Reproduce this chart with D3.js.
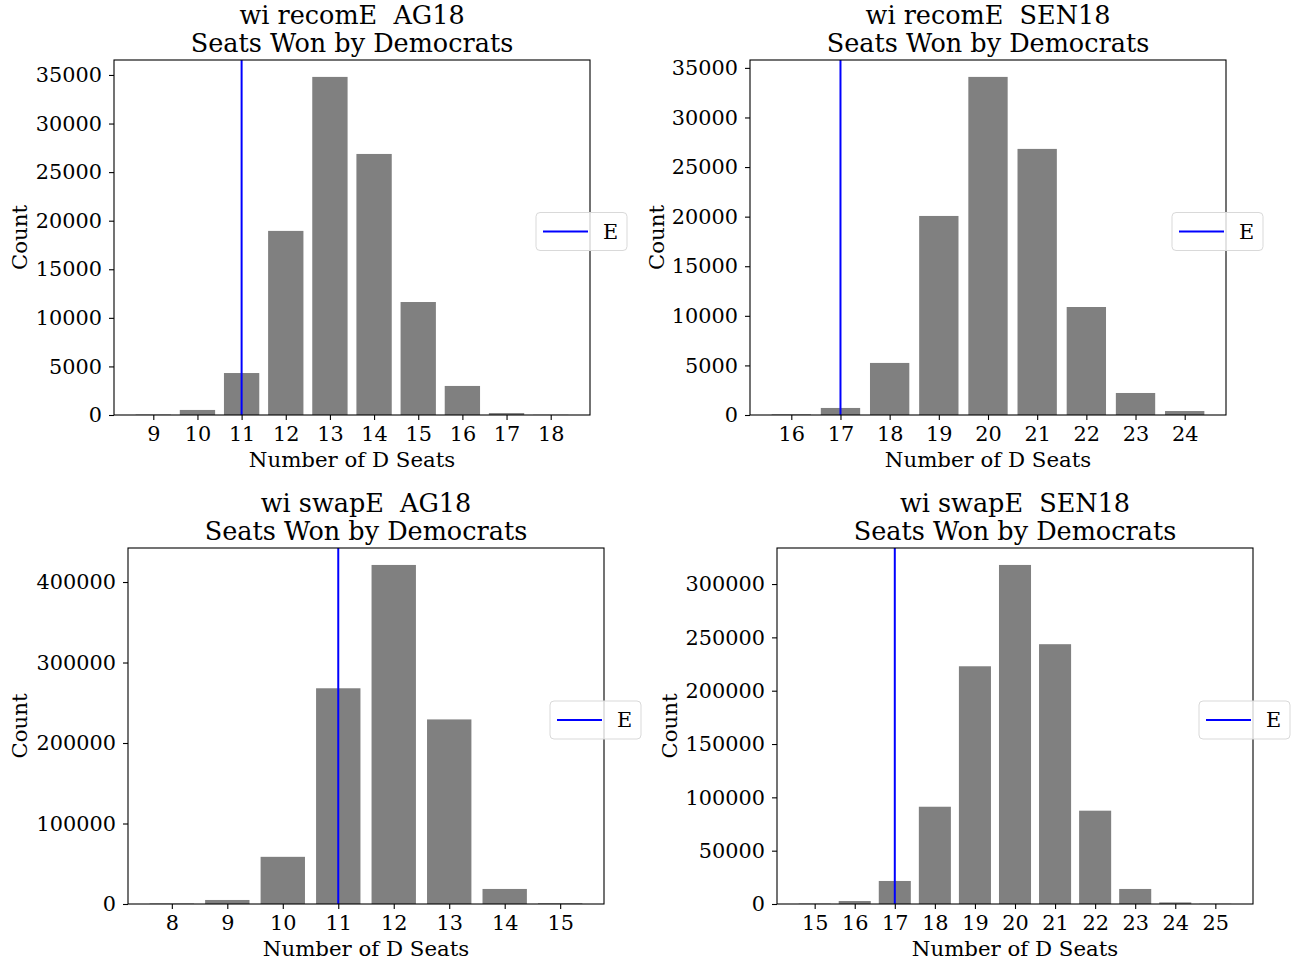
<!DOCTYPE html>
<html><head><meta charset="utf-8">
<script src="https://cdn.jsdelivr.net/npm/d3@7"></script>
<style>body{margin:0;background:#fff}svg{display:block}text{font-family:"DejaVu Serif",serif;fill:#000;white-space:pre}</style>
</head><body><svg id="c" width="1295" height="962"></svg>
<script>
// Panel 1: wi recomE AG18
const seats1 = [9,10,11,12,13,14,15,16,17,18];
const counts1 = [40,520,4320,18950,34800,26870,11630,2990,200,20];
const enacted1 = 11;
// Panel 2: wi recomE SEN18
const seats2 = [16,17,18,19,20,21,22,23,24];
const counts2 = [60,710,5250,20070,34090,26830,10890,2220,400];
const enacted2 = 17;
// Panel 3: wi swapE AG18
const seats3 = [8,9,10,11,12,13,14,15];
const counts3 = [500,5000,58600,268000,421200,229300,18700,800];
const enacted3 = 11;
// Panel 4: wi swapE SEN18
const seats4 = [15,16,17,18,19,20,21,22,23,24,25];
const counts4 = [300,2800,21600,91200,222900,317900,243600,87500,14100,1500,200];
const enacted4 = 17;

const titles = ["wi recomE  AG18","wi recomE  SEN18","wi swapE  AG18","wi swapE  SEN18"];
const subtitle = "Seats Won by Democrats";
const yTicks1 = [0,5000,10000,15000,20000,25000,30000,35000];
const yTicks2 = [0,5000,10000,15000,20000,25000,30000,35000];
const yTicks3 = [0,100000,200000,300000,400000];
const yTicks4 = [0,50000,100000,150000,200000,250000,300000];

const svg = d3.select("#c");
const panels = [
  {seats:seats1,counts:counts1,e:enacted1,title:titles[0],ticks:yTicks1,box:[114,60,590,415],ylx:20},
  {seats:seats2,counts:counts2,e:enacted2,title:titles[1],ticks:yTicks2,box:[750,60,1226,415],ylx:657},
  {seats:seats3,counts:counts3,e:enacted3,title:titles[2],ticks:yTicks3,box:[128,548,604,904],ylx:20},
  {seats:seats4,counts:counts4,e:enacted4,title:titles[3],ticks:yTicks4,box:[777,548,1253,904],ylx:670}
];

panels.forEach(p=>{
  const [L,T,R,B] = p.box;
  const lo = d3.min(p.seats)-0.4, hi = d3.max(p.seats)+0.4, m=(hi-lo)*0.05;
  const x = d3.scaleLinear().domain([lo-m,hi+m]).range([L,R]);
  const ymax = d3.max(p.counts)*1.05;
  const y = d3.scaleLinear().domain([0,ymax]).range([B,T]);
  const g = svg.append("g");
  g.selectAll("rect.bar").data(p.seats).join("rect")
    .attr("x",d=>x(d-0.4)).attr("width",d=>x(d+0.4)-x(d-0.4))
    .attr("y",(d,i)=>y(p.counts[i])).attr("height",(d,i)=>y(0)-y(p.counts[i]))
    .attr("fill","#808080");
  g.append("line").attr("x1",x(p.e)).attr("x2",x(p.e)).attr("y1",T).attr("y2",B)
    .attr("stroke","#0000ff").attr("stroke-width",2);
  const xa = g.append("g").attr("transform",`translate(0,${B})`)
    .call(d3.axisBottom(x).tickValues(p.seats).tickFormat(d3.format("d")).tickSize(5).tickPadding(6));
  const ya = g.append("g").attr("transform",`translate(${L},0)`)
    .call(d3.axisLeft(y).tickValues(p.ticks).tickFormat(d3.format("d")).tickSize(5).tickPadding(7));
  [xa,ya].forEach(a=>{a.select(".domain").remove();a.selectAll("text").style("font-size","20.8px").style("font-family","DejaVu Serif");a.selectAll("line").attr("stroke","#000").attr("stroke-width",1.1);});
  g.append("rect").attr("x",L).attr("y",T).attr("width",R-L).attr("height",B-T)
    .attr("fill","none").attr("stroke","#000").attr("stroke-width",1.1);
  const cx=(L+R)/2;
  g.append("text").attr("x",cx).attr("y",T-36).attr("text-anchor","middle").style("font-size","25.5px").text(p.title);
  g.append("text").attr("x",cx).attr("y",T-8).attr("text-anchor","middle").style("font-size","25.5px").text(subtitle);
  g.append("text").attr("x",cx).attr("y",B+52).attr("text-anchor","middle").style("font-size","21.3px").text("Number of D Seats");
  g.append("text").attr("transform",`translate(${p.ylx+7},${(T+B)/2}) rotate(-90)`).attr("text-anchor","middle").style("font-size","21.3px").text("Count");
  // legend
  const lx=R-54, ly=(T+B)/2-25;
  const lg=g.append("g");
  lg.append("rect").attr("x",lx).attr("y",ly).attr("width",91).attr("height",38).attr("rx",4)
    .attr("fill","#fff").attr("fill-opacity",0.8).attr("stroke","#d9d9d9").attr("stroke-width",1);
  lg.append("line").attr("x1",lx+7).attr("x2",lx+52).attr("y1",ly+19).attr("y2",ly+19).attr("stroke","#0000ff").attr("stroke-width",2);
  lg.append("text").attr("x",lx+67).attr("y",ly+26).style("font-size","20.8px").text("E");
});
</script></body></html>
